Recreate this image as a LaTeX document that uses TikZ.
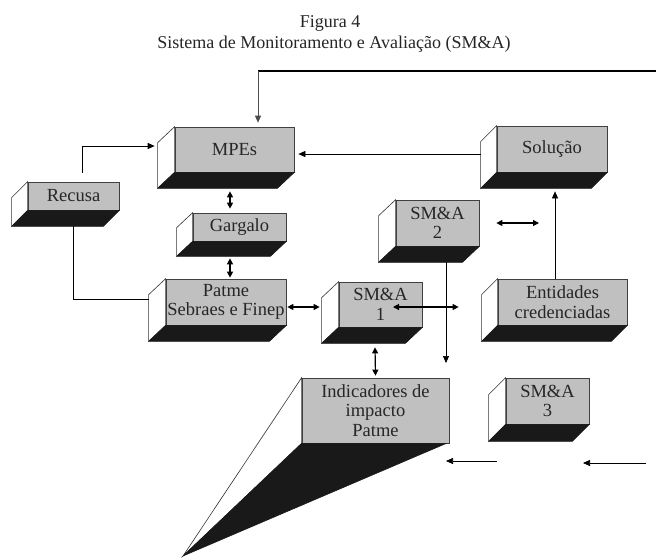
\documentclass[tikz,border=0pt]{standalone}
\usepackage{fontspec}
\setmainfont{Liberation Serif}
\usetikzlibrary{arrows.meta}
\definecolor{boxgray}{HTML}{C0C0C0}
\newcommand\tdbox[7]{%
  \node[face, minimum width=#3pt, minimum height=#4pt] (#1) at #2 {#7};
  \filldraw[fill=white, draw=black!80, line width=0.6pt] (#1.north west) -- (#1.south west) -- ++(-#5,#6) -- ([shift={(-#5,#6)}]#1.north west) -- cycle;
  \filldraw[fill=black!90, draw=black!90, line width=0.6pt] (#1.south west) -- (#1.south east) -- ++(-#5,#6) -- ([shift={(-#5,#6)}]#1.south west) -- cycle;
}
\begin{document}
\begin{tikzpicture}[x=1pt,y=-1pt,
  face/.style={draw=black!75, fill=boxgray, line width=0.7pt, align=center, inner sep=0pt,
    font=\fontsize{18.5}{19.5}\selectfont, text=black!85},
  title/.style={anchor=base, font=\fontsize{18}{20}\selectfont, text=black!85},
  arr/.style={-{Triangle[length=7pt,width=6pt]}, line width=0.7pt},
  darr/.style={{Triangle[length=6pt,width=6pt]}-{Triangle[length=6pt,width=6pt]}, line width=1.2pt},
  plain/.style={line width=0.6pt}]
\useasboundingbox[fill=white] (0,0) rectangle (656,558);

% titles
\node[title] (t1) at (330,27) {Figura 4};
\node[title] (t2) at (334,48) {Sistema de Monitoramento e Avaliação (SM\&A)};

% boxes
\tdbox{MPEs}{(234.5,149.5)}{119}{45}{17}{16}{MPEs}
\tdbox{Recusa}{(73.5,196)}{91}{28}{16}{16}{Recusa}
\tdbox{Gargalo}{(239.5,227)}{93}{28}{16}{15}{Gargalo}
\tdbox{Patme}{(226,302)}{120}{46}{17}{16}{Patme\\Sebraes e Finep}
\tdbox{SMA1}{(380.5,304.5)}{83}{45}{17}{16}{SM\&A\\1}
\tdbox{SMA2}{(437.5,223)}{83}{46}{17}{16}{SM\&A\\2}
\tdbox{Solucao}{(552,149)}{110}{46}{16}{16}{Solução}
\tdbox{Entidades}{(562.5,302)}{129}{46}{16}{16}{Entidades\\credenciadas}
\tdbox{SMA3}{(547.5,401)}{83}{46}{17}{17}{SM\&A\\3}

% Indicadores (perspective box)
\node[face, minimum width=147pt, minimum height=65pt] (Ind) at (375.5,410.5) {Indicadores de\\impacto\\Patme};
\coordinate (vp) at (183,556);
\filldraw[fill=white, draw=black!80, line width=0.6pt] (Ind.north west) -- (Ind.south west) -- (vp) -- cycle;
\filldraw[fill=black!90, draw=black!90, line width=0.6pt] (Ind.south west) -- ([xshift=-3]Ind.south east) -- (vp) -- cycle;

% free coordinates
\coordinate (topl) at (258,71);
\coordinate (topr) at (656,71);
\coordinate (sma2end) at (446,363);
\coordinate (sma2r) at (539,223);
\coordinate (b1s) at (497,461);
\coordinate (b1e) at (446,461);
\coordinate (b2s) at (646,463);
\coordinate (b2e) at (583,463);

% connectors
\draw[line width=2pt] (topl) -- (topr);
\draw[arr, draw=black!70] (topl) -- ([shift={(23.5,-4)}]MPEs.north);
\draw[arr, line width=1pt] ([shift={(8.5,-9)}]Recusa.north) |- ([shift={(-20,-3.5)}]MPEs.west);
\draw[arr] ([shift={(-16,5)}]Solucao.west) -- ([shift={(4,4.5)}]MPEs.east);
\draw[darr] ([shift={(-4.5,19)}]MPEs.south) -- ([shift={(-9.5,-4)}]Gargalo.north);
\draw[darr] ([shift={(-9.5,17)}]Gargalo.south) -- ([shift={(4,-1)}]Patme.north);
\draw[plain] ([shift={(0,16)}]Recusa.south) |- ([shift={(-17,-3)}]Patme.west);
\draw[darr] ([shift={(1,5)}]Patme.east) -- ([shift={(-19,2.5)}]SMA1.west);
\draw[arr] ([shift={(8.5,16)}]SMA2.south) -- (sma2end);
\draw[darr] ([shift={(12.5,2.5)}]SMA1.center) -- ([shift={(-39,5)}]Entidades.west);
\draw[darr] ([xshift=17]SMA2.east) -- (sma2r);
\draw[arr] ([xshift=-7.5]Entidades.north) -- ([shift={(3,19)}]Solucao.south);
\draw[darr] ([shift={(-5.5,20)}]SMA1.south) -- ([shift={(0,-2)}]Ind.north);
\draw[arr] (b1s) -- (b1e);
\draw[arr] (b2s) -- (b2e);
\end{tikzpicture}
\end{document}
